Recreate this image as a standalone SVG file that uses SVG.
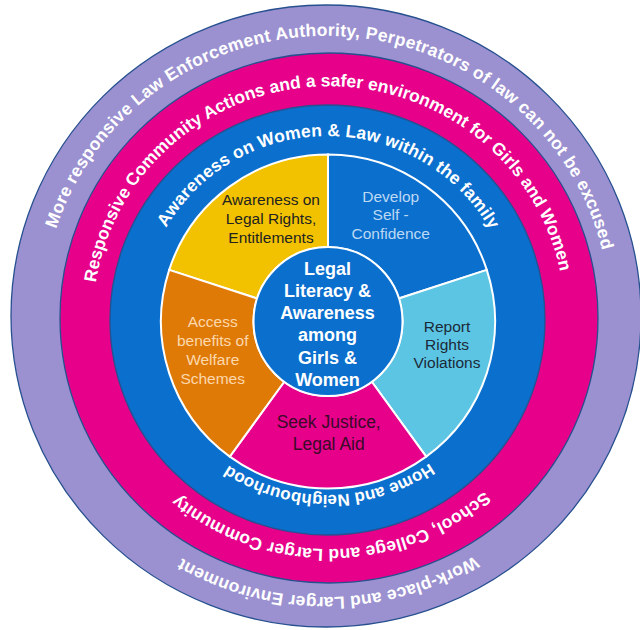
<svg xmlns="http://www.w3.org/2000/svg" xmlns:xlink="http://www.w3.org/1999/xlink" width="640" height="630" viewBox="0 0 640 630">
<style>
.ring{stroke:#27508f;stroke-width:1.3}
.rt{font-family:"Liberation Sans",Arial,sans-serif;font-weight:bold;font-size:17.5px;fill:#ffffff}
.seg{stroke:#ffffff;stroke-width:2}
.st{font-family:"Liberation Sans",Arial,sans-serif;font-size:15.5px;text-anchor:middle}
.ct{font-family:"Liberation Sans",Arial,sans-serif;font-weight:bold;font-size:18px;fill:#ffffff;text-anchor:middle}
</style>
<defs>
<path id="pOuterTop" d="M 44.3 280.4 A 284 280 0 0 1 609.7 302.8"/>
<path id="pOuterBot" d="M 574.1 454.4 A 285 281 0 0 1 80.4 458.6"/>
<path id="pMidTop" d="M 93.5 303.4 A 236 232 0 0 1 563.5 292.1"/>
<path id="pMidBot" d="M 533.9 431.1 A 235 231 0 0 1 126.9 435.9"/>
<path id="pInTop" d="M 144.1 286.8 A 186.5 184 0 0 1 511.4 289.3"/>
<path id="pInBot" d="M 482.1 405.9 A 177.5 175 0 0 1 174.7 409.1"/>
</defs>
<rect width="640" height="630" fill="#ffffff"/>
<g id="ring-outer">
<ellipse class="ring" cx="326" cy="316" rx="315" ry="311" fill="#9b91d0"/>
<text class="rt" letter-spacing="0.3"><textPath xlink:href="#pOuterTop" href="#pOuterTop" startOffset="50%" text-anchor="middle">More responsive Law Enforcement Authority, Perpetrators of law can not be excused</textPath></text>
<text class="rt" letter-spacing="0.17"><textPath xlink:href="#pOuterBot" href="#pOuterBot" startOffset="50%" text-anchor="middle">Work-place and Larger Environment</textPath></text>
</g>
<g id="ring-middle">
<ellipse class="ring" cx="329" cy="318" rx="269" ry="265" fill="#e6008a"/>
<text class="rt"><textPath xlink:href="#pMidTop" href="#pMidTop" startOffset="50%" text-anchor="middle">Responsive Community Actions and a safer environment for Girls and Women</textPath></text>
<text class="rt" letter-spacing="0.15"><textPath xlink:href="#pMidBot" href="#pMidBot" startOffset="50%" text-anchor="middle">School, College and Larger Community</textPath></text>
</g>
<g id="ring-inner">
<ellipse class="ring" cx="327.5" cy="320" rx="217.5" ry="215" fill="#0b6fce"/>
<text class="rt" letter-spacing="0.15"><textPath xlink:href="#pInTop" href="#pInTop" startOffset="50%" text-anchor="middle">Awareness on Women &amp; Law within the family</textPath></text>
<text class="rt" style="font-size:17px"><textPath xlink:href="#pInBot" href="#pInBot" startOffset="50%" text-anchor="middle">Home and Neighbourhood</textPath></text>
</g>
<g id="seg-rights">
<path class="seg" fill="#f2c200" d="M 169.2 269.9 A 167 167 0 0 1 328 154.5 L 328 247 A 74.5 74.5 0 0 0 257.15 298.48 Z"/>
<text class="st" fill="#222222"><tspan x="271" y="205">Awareness on</tspan><tspan x="271" y="223.8">Legal Rights,</tspan><tspan x="271" y="242.6">Entitlements</tspan></text>
</g>
<g id="seg-confidence">
<path class="seg" fill="#0b6fce" d="M 328 154.5 A 167 167 0 0 1 486.8 269.9 L 398.85 298.48 A 74.5 74.5 0 0 0 328 247 Z"/>
<text class="st" fill="#bcd9f3"><tspan x="390.7" y="201.7">Develop</tspan><tspan x="390.7" y="220.3">Self -</tspan><tspan x="390.7" y="239">Confidence</tspan></text>
</g>
<g id="seg-report">
<path class="seg" fill="#5cc5e4" d="M 486.8 269.9 A 167 167 0 0 1 426.2 456.6 L 371.79 381.77 A 74.5 74.5 0 0 0 398.85 298.48 Z"/>
<text class="st" fill="#1b2a38"><tspan x="447" y="331.7">Report</tspan><tspan x="447" y="350">Rights</tspan><tspan x="447" y="368.3">Violations</tspan></text>
</g>
<g id="seg-justice">
<path class="seg" fill="#e6008a" d="M 426.2 456.6 A 167 167 0 0 1 229.8 456.6 L 284.21 381.77 A 74.5 74.5 0 0 0 371.79 381.77 Z"/>
<text class="st" fill="#3a0a29" style="font-size:17.5px"><tspan x="328.7" y="428">Seek Justice,</tspan><tspan x="328.7" y="450">Legal Aid</tspan></text>
</g>
<g id="seg-welfare">
<path class="seg" fill="#e07a06" d="M 229.8 456.6 A 167 167 0 0 1 169.2 269.9 L 257.15 298.48 A 74.5 74.5 0 0 0 284.21 381.77 Z"/>
<text class="st" fill="#fbd8ae"><tspan x="212.7" y="327">Access</tspan><tspan x="212.7" y="346">benefits of</tspan><tspan x="212.7" y="365">Welfare</tspan><tspan x="212.7" y="383.5">Schemes</tspan></text>
</g>
<g id="core">
<circle cx="328" cy="321.5" r="74.5" fill="#0b6fce" stroke="#ffffff" stroke-width="2"/>
<text class="ct"><tspan x="327.5" y="274.5">Legal</tspan><tspan x="327.5" y="296.8">Literacy &amp;</tspan><tspan x="327.5" y="319.1">Awareness</tspan><tspan x="327.5" y="341.4">among</tspan><tspan x="327.5" y="363.7">Girls &amp;</tspan><tspan x="327.5" y="386">Women</tspan></text>
</g>
<g id="connectors"/>
</svg>
